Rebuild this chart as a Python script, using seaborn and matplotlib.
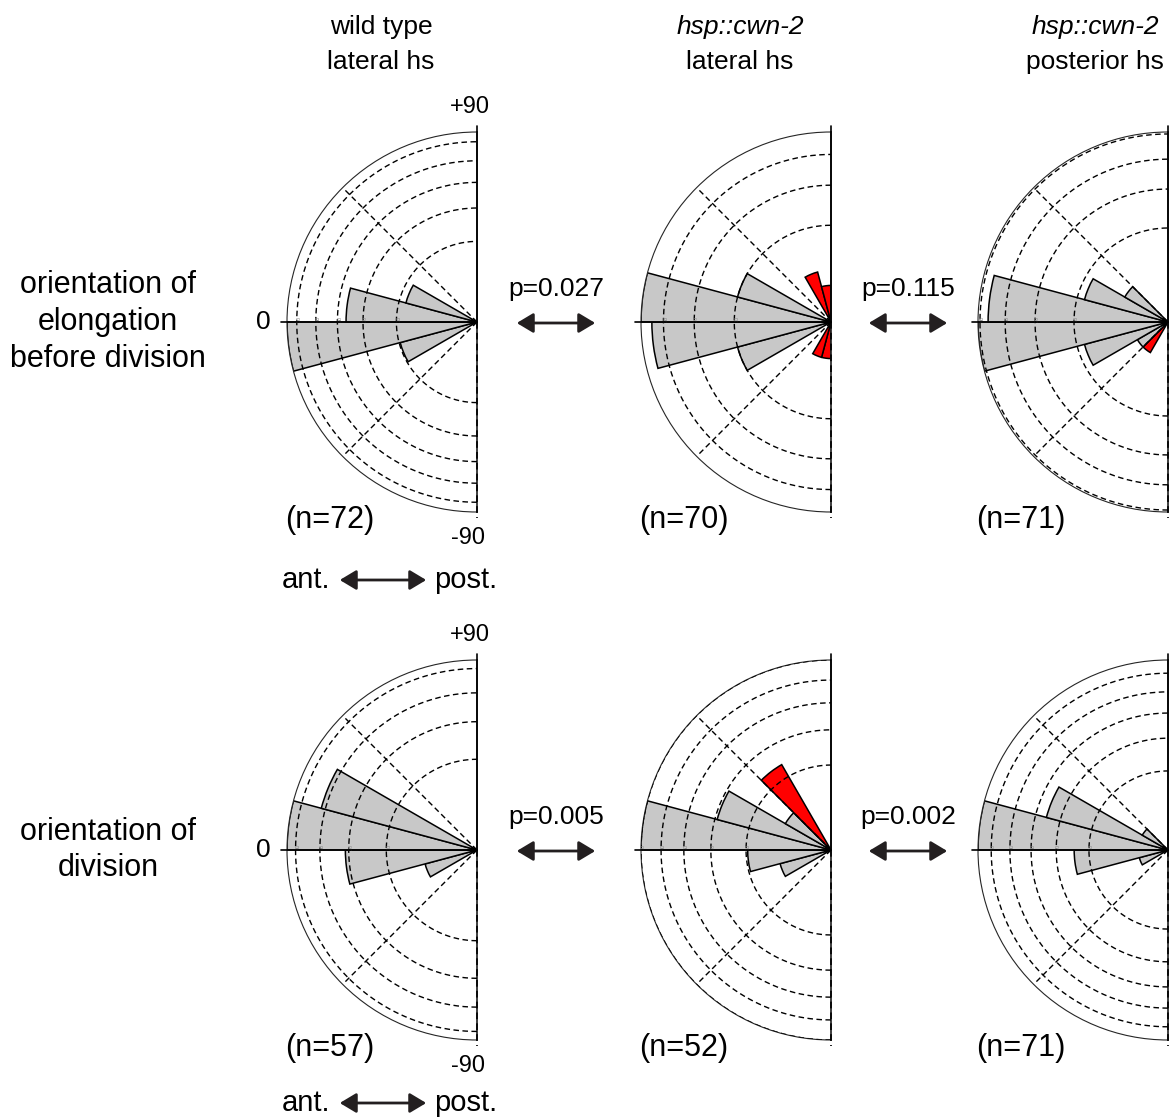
import numpy as np
import seaborn as sns
import matplotlib.pyplot as plt
from matplotlib.patches import FancyArrowPatch

# 15 degree bins from -90 to +90 (0 = anterior, pointing left)
bin_lo = np.arange(-90, 90, 15)
bin_mid = bin_lo + 7.5

# cell counts per bin, from -90 up to +90
wt_lat_elong = [0, 0, 0, 0, 7, 40, 19, 6, 0, 0, 0, 0]
cwn_lat_elong = [1, 1, 0, 0, 7, 24, 27, 7, 0, 0, 2, 1]
cwn_post_elong = [0, 0, 1, 1, 6, 29, 26, 6, 2, 0, 0, 0]
wt_lat_div = [0, 0, 0, 0, 2, 12, 25, 18, 0, 0, 0, 0]
cwn_lat_div = [0, 0, 0, 0, 2, 5, 26, 10, 2, 7, 0, 0]
cwn_post_div = [0, 0, 0, 0, 1, 10, 41, 18, 1, 0, 0, 0]

rows = [[wt_lat_elong, cwn_lat_elong, cwn_post_elong],
        [wt_lat_div, cwn_lat_div, cwn_post_div]]

col_line1 = ['wild type', 'hsp::cwn-2', 'hsp::cwn-2']
col_line2 = ['lateral hs', 'lateral hs', 'posterior hs']
row_labels = [['orientation of', 'elongation', 'before division'],
              ['orientation of', 'division']]
p_values = [['p=0.027', 'p=0.115'], ['p=0.005', 'p=0.002']]

W, H = 1173, 1120
R = 190
centers_x = [477, 831, 1168]
centers_y = [322, 850]
antpost_y = [580, 1103]
dash = (0, (4, 2.5))

sns.set_theme(style='white')
plt.rcParams['font.family'] = ['Liberation Sans', 'DejaVu Sans']
plt.rcParams['text.color'] = 'black'

fig = plt.figure(figsize=(W / 100, H / 100), dpi=100)


def fx(x):
    return x / W


def fy(y):
    return 1 - y / H


def rose(ax, counts):
    counts = np.array(counts, dtype=float)
    pct = 100 * counts / counts.sum()
    top = pct.max()
    ax.set_theta_zero_location('W')
    ax.set_theta_direction(-1)
    ax.set_thetamin(-90)
    ax.set_thetamax(90)
    # area-proportional rose: radius grows with sqrt of the percentage
    ax.set_rscale('function', functions=(lambda r: np.sqrt(np.clip(r, 0, None)),
                                         lambda r: np.square(r)))
    ax.set_rlim(0, top)
    ax.grid(False)
    ax.set_xticks([])
    ax.set_yticks([])
    ax.patch.set_alpha(0)
    for s in ['start', 'end', 'inner']:
        ax.spines[s].set_visible(False)
    ax.spines['polar'].set_linewidth(0.8)

    keep = pct > 0
    colors = np.where(np.abs(bin_mid) > 45, '#ff0000', '#c8c8c8')
    ax.bar(np.radians(bin_mid[keep]), pct[keep], width=np.radians(15),
           bottom=0, color=colors[keep], edgecolor='black', linewidth=1.1,
           zorder=2)

    th = np.linspace(-np.pi / 2, np.pi / 2, 300)
    for v in range(10, int(top) + 1, 10):
        ax.plot(th, np.full_like(th, v), color='black', lw=1.0, ls=dash, zorder=3)
        ax.text(0, v, str(v), rotation=90, fontsize=4, color='#8a8a8a',
                ha='left', va='bottom', zorder=4)
    for a in [np.pi / 4, -np.pi / 4]:
        ax.plot([a, a], [0, top * 0.97], color='black', lw=1.0, ls=dash, zorder=3)
    ext = top * 1.06
    ax.plot([0, 0], [0, ext], color='black', lw=1.2, zorder=4, clip_on=False)
    ax.plot([np.pi / 2] * 2, [0, ext], color='black', lw=1.2, zorder=4, clip_on=False)
    ax.plot([-np.pi / 2] * 2, [0, ext], color='black', lw=1.2, ls=dash,
            zorder=4, clip_on=False)


for i, row in enumerate(rows):
    cy = centers_y[i]
    for j, counts in enumerate(row):
        cx = centers_x[j]
        # polar axes keep a square box; the half disc sits in its middle
        ax = fig.add_axes([fx(cx - 1.5 * R), fy(cy + R), 2 * R / W, 2 * R / H],
                          projection='polar')
        rose(ax, counts)
        fig.text(fx(cx - 147), fy(cy + 198), '(n=%d)' % sum(counts),
                 fontsize=22, ha='center', va='center')

    # angle labels on the wild type panel
    fig.text(fx(263), fy(cy), '0', fontsize=19, ha='center', va='center')
    fig.text(fx(470), fy(cy - 215), '+90', fontsize=17, ha='center', va='center')
    fig.text(fx(468), fy(cy + 216), '-90', fontsize=17, ha='center', va='center')

    # ant. <-> post.
    ya = antpost_y[i]
    fig.text(fx(306), fy(ya), 'ant.', fontsize=21, ha='center', va='center')
    fig.text(fx(466), fy(ya), 'post.', fontsize=21, ha='center', va='center')
    fig.add_artist(FancyArrowPatch((fx(337), fy(ya)), (fx(429), fy(ya)),
                                   transform=fig.transFigure,
                                   arrowstyle='<|-|>,head_length=0.5,head_width=0.3',
                                   mutation_scale=20, lw=2, color='#231f20'))

    # p-values between panels
    for k, px in enumerate([556, 908]):
        fig.text(fx(px), fy(cy - 33), p_values[i][k], fontsize=19,
                 ha='center', va='center')
        fig.add_artist(FancyArrowPatch((fx(px - 42), fy(cy + 1)), (fx(px + 42), fy(cy + 1)),
                                       transform=fig.transFigure,
                                       arrowstyle='<|-|>,head_length=0.5,head_width=0.3',
                                       mutation_scale=20, lw=2, color='#231f20'))

    # row label
    lines = row_labels[i]
    y0 = cy - 18.5 * (len(lines) - 1)
    for k, t in enumerate(lines):
        fig.text(fx(108), fy(y0 + 37 * k), t, fontsize=22, ha='center', va='center')

# column titles
title_x = [381, 740, 1095]
for j in range(3):
    style = 'normal' if j == 0 else 'italic'
    fig.text(fx(title_x[j]), fy(27), col_line1[j], fontsize=19, ha='center',
             va='center', style=style)
    fig.text(fx(title_x[j]), fy(62), col_line2[j], fontsize=19, ha='center',
             va='center')

fig.savefig('out.png', dpi=100, facecolor='white')
